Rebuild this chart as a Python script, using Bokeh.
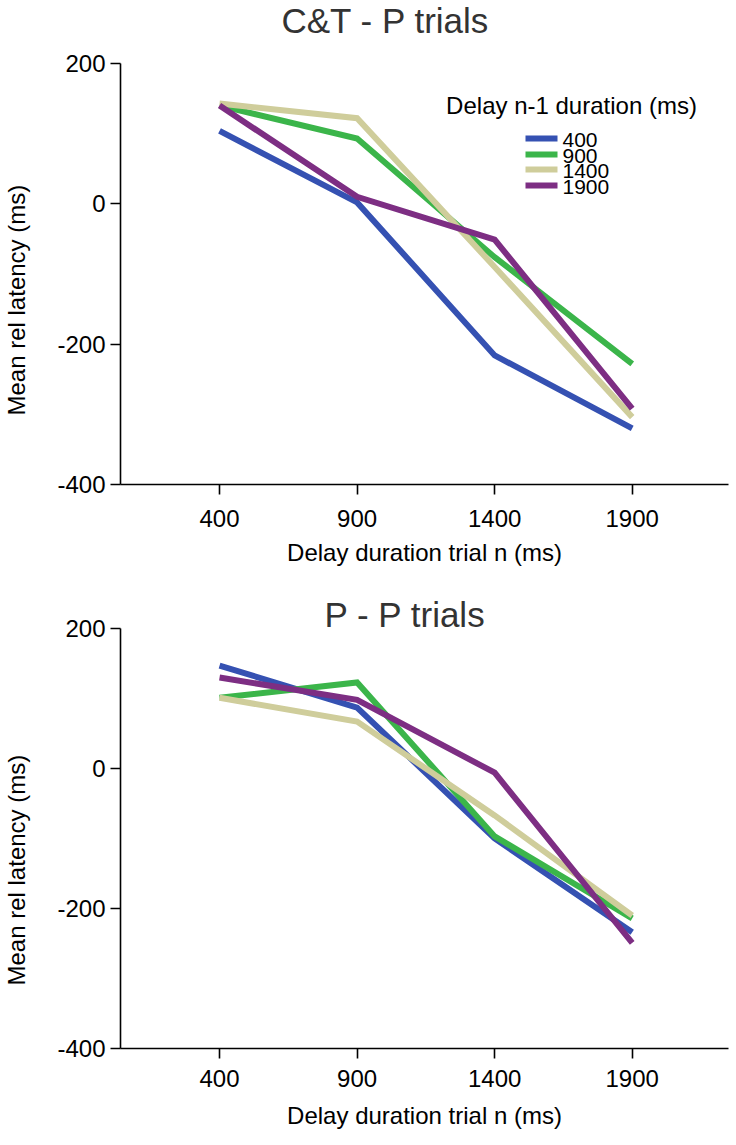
from bokeh.plotting import figure
from bokeh.models import Label, BoxAnnotation, Range1d, FixedTicker, Title, LinearAxis
from bokeh.layouts import column
from bokeh.embed import file_html
from bokeh.resources import INLINE

# ---- data -------------------------------------------------------------
delay_n = [400, 900, 1400, 1900]                 # x: delay duration trial n (ms)
prev_delay = ["400", "900", "1400", "1900"]      # series: delay n-1 duration (ms)
colors = ["#3551b2", "#3bb54a", "#cfcd9b", "#7d2e83"]

ct_p_400 = [104, 2, -216, -320]
ct_p_900 = [140, 93, -76, -228]
ct_p_1400 = [143, 122, -90, -304]
ct_p_1900 = [140, 10, -51, -292]

p_p_400 = [147, 87, -100, -234]
p_p_900 = [101, 123, -97, -214]
p_p_1400 = [101, 67, -67, -210]
p_p_1900 = [130, 98, -6, -249]

y_ticks = [-400, -200, 0, 200]
x_ticks = [400, 900, 1400, 1900]

FONT = "Liberation Sans"
LEFT = 120
YAXIS_W = 70          # measured width of the y axis panel (ticks + labels)


def try_standoff(t, v):
    try:
        t.standoff = v
        return v
    except Exception:
        t.standoff = 0
        return 0


def spacer(size, tick):
    # invisible axis used only to reserve space in a side panel
    return LinearAxis(ticker=FixedTicker(ticks=[tick]), axis_line_color=None,
                      major_tick_line_color="white", major_tick_line_width=1,
                      major_tick_out=int(size), major_tick_in=0,
                      minor_tick_line_color=None, minor_tick_out=0, minor_tick_in=0,
                      major_label_standoff=0, major_label_overrides={tick: ""},
                      major_label_text_font_size="1px")


def make_fig(title, series, height, b_top, b_bottom, title_offset, title_em_bottom,
             ylab_offset, tick_standoff, label_standoff, legend=False):
    p = figure(width=736, height=height,
               x_range=Range1d(40, 2250), y_range=Range1d(-400, 200),
               output_backend="svg", toolbar_location=None,
               min_border_left=LEFT, min_border_right=8,
               min_border_top=b_top, min_border_bottom=b_bottom)
    p.outline_line_color = None
    p.xgrid.visible = False
    p.ygrid.visible = False
    p.background_fill_color = "white"
    p.border_fill_color = "white"

    for ax in (p.xaxis[0], p.yaxis[0]):
        ax.axis_line_color = "black"
        ax.axis_line_width = 1.6
        ax.major_tick_line_color = "black"
        ax.major_tick_line_width = 1.6
        ax.major_tick_out = 10
        ax.major_tick_in = 0
        ax.minor_tick_line_color = None
        ax.major_label_text_font = FONT
        ax.major_label_text_font_size = "24px"
        ax.major_label_text_color = "black"
        ax.axis_label_text_font = FONT
        ax.axis_label_text_font_size = "24px"
        ax.axis_label_text_font_style = "normal"
        ax.axis_label_text_color = "black"

    p.xaxis.ticker = FixedTicker(ticks=x_ticks)
    p.yaxis.ticker = FixedTicker(ticks=y_ticks)
    p.yaxis.major_label_overrides = {v: str(v) for v in y_ticks}
    p.xaxis.axis_label = "Delay duration trial n (ms)"
    p.xaxis.major_label_standoff = tick_standoff
    p.xaxis.axis_label_standoff = label_standoff
    p.yaxis.major_label_standoff = 5

    # ---- chart title (above, with an invisible spacer between it and the frame)
    t = Title(text=title, align="left", offset=title_offset, vertical_align="bottom",
              text_font=FONT, text_font_size="35px", text_font_style="normal",
              text_color="#333333")
    s = try_standoff(t, -10)
    title_h = 41 + s
    gap = b_top - s / 2 - title_em_bottom
    gap = int(max(0, min(gap, b_top - title_h)))
    if gap > 0:
        p.add_layout(spacer(gap, 2200), "above")
    p.add_layout(t, "above")

    # ---- y axis title (left, beyond an invisible spacer)
    yl = Title(text="Mean rel latency (ms)", align="left", offset=ylab_offset,
               vertical_align="bottom", text_font=FONT, text_font_size="24px",
               text_font_style="normal", text_color="black")
    sl = try_standoff(yl, -10)
    ylab_w = 29 + sl
    lgap = int(LEFT - YAXIS_W - ylab_w - 1)
    if lgap > 0:
        p.add_layout(spacer(lgap, 100), "left")
    p.add_layout(yl, "left")

    for vals, col in zip(series, colors):
        p.line(delay_n, vals, line_color=col, line_width=6, line_join="miter")

    if legend:
        p.add_layout(Label(x=451, y=379, x_units="screen", y_units="screen",
                           text="Delay n-1 duration (ms)", text_align="center",
                           text_baseline="middle", text_font=FONT,
                           text_font_size="24px", text_color="black"))
        row_y = [346, 330, 315, 299]
        for name, col, yy in zip(prev_delay, colors, row_y):
            p.add_layout(BoxAnnotation(left=405, right=437, bottom=yy - 3, top=yy + 3,
                                       left_units="screen", right_units="screen",
                                       bottom_units="screen", top_units="screen",
                                       fill_color=col, fill_alpha=1.0, line_color=None))
            p.add_layout(Label(x=442, y=yy - 1, x_units="screen", y_units="screen",
                               text=name, text_align="left", text_baseline="middle",
                               text_font=FONT, text_font_size="21px", text_color="black"))
    return p


p1 = make_fig("C&T - P trials", [ct_p_400, ct_p_900, ct_p_1400, ct_p_1900],
              height=575, b_top=63, b_bottom=91, title_offset=161, title_em_bottom=39,
              ylab_offset=69, tick_standoff=15, label_standoff=9, legend=True)
p2 = make_fig("P - P trials", [p_p_400, p_p_900, p_p_1400, p_p_1900],
              height=565, b_top=53, b_bottom=92, title_offset=204, title_em_bottom=58,
              ylab_offset=63, tick_standoff=11, label_standoff=12, legend=False)

layout = column(p1, p2, spacing=0)
open("out.html", "w").write(file_html(layout, INLINE))
